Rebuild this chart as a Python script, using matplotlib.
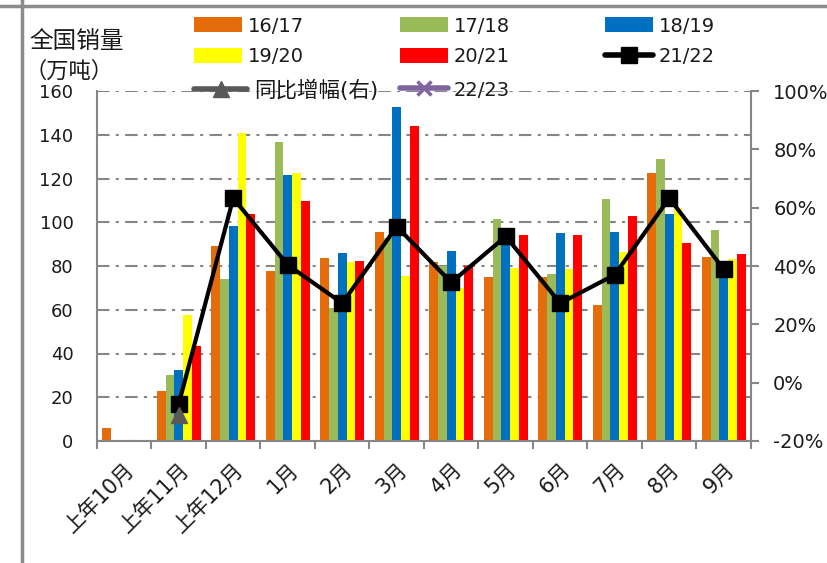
import numpy as np
import matplotlib
matplotlib.use("Agg")
import matplotlib.pyplot as plt
from matplotlib.lines import Line2D
from matplotlib.patches import Patch
from matplotlib.transforms import ScaledTranslation

plt.rcParams['font.family'] = ['DejaVu Sans', 'Noto Sans CJK SC']

categories = ['上年10月', '上年11月', '上年12月', '1月', '2月', '3月',
              '4月', '5月', '6月', '7月', '8月', '9月']
nan = np.nan
s1617 = [6, 23, 89, 77.5, 83.5, 95.5, 82, 75, 75, 62, 122.5, 84]
s1718 = [nan, 30, 74, 136.5, 61, 93, 80, 101.5, 76.5, 110.5, 129, 96.5]
s1819 = [nan, 32.5, 98.5, 121.5, 86, 152.5, 87, 91, 95, 95.5, 104, 78]
s1920 = [nan, 57.5, 141, 122.5, 82, 75.5, 70, 79, 78.5, 86.5, 106.5, 83]
s2021 = [nan, 43.5, 104, 109.5, 82.5, 144, 80, 94, 94, 103, 90.5, 85.5]
s2122 = [nan, 17, 111, 80.5, 63, 98, 72.5, 93.5, 63, 76, 111, 78.5]
yoy = [nan, -11, nan, nan, nan, nan, nan, nan, nan, nan, nan, nan]
s2223 = [nan] * 12

bar_series = [('16/17', s1617, '#E46C0A'), ('17/18', s1718, '#9BBB59'),
              ('18/19', s1819, '#0070C0'), ('19/20', s1920, '#FFFF00'),
              ('20/21', s2021, '#FF0000')]

W, H = 828, 563
fig = plt.figure(figsize=(W / 100, H / 100), dpi=100)
ax = fig.add_axes([97 / W, 1 - 441 / H, (751 - 97) / W, (441 - 91) / H])
ax2 = ax.twinx()

x = np.arange(len(categories))
bw = 0.16
for i, (name, vals, col) in enumerate(bar_series):
    ax.bar(x + (i - 2) * bw, vals, width=bw, color=col, zorder=2, label=name)

ax.plot(x, s2122, color='black', lw=3, marker='s', ms=12, zorder=4, label='21/22')
ax2.plot(x, yoy, color='#595959', lw=3, marker='^', ms=11, zorder=5, label='同比增幅(右)')
ax2.plot(x, s2223, color='#8064A2', lw=3, marker='x', ms=10, mew=2, label='22/23')

gray = '#868686'
txtc = '#1a1a1a'
ax.set_xlim(-0.5, len(categories) - 0.5)
ax.set_ylim(0, 160)
ax.set_yticks(np.arange(0, 161, 20))
ax2.set_ylim(-20, 100)
ax2.set_yticks(np.arange(-20, 101, 20))
ax2.set_yticklabels([f'{v}%' for v in range(-20, 101, 20)])

ax.yaxis.grid(True, color=gray, lw=1.5, linestyle=(0, (6, 3, 1.5, 3)), zorder=0)
ax.set_axisbelow(True)

ax.set_xticks(x)
ax.set_xticklabels(categories, rotation=45, ha='right', va='top',
                   rotation_mode='anchor', fontsize=15, color=txtc)
shift = ScaledTranslation(-7 / 100, -2 / 100, fig.dpi_scale_trans)
for lab in ax.get_xticklabels():
    lab.set_transform(lab.get_transform() + shift)
ax.set_xticks(np.arange(-0.5, len(categories), 1), minor=True)
ax.tick_params(axis='x', which='major', length=0, pad=13)
ax.tick_params(axis='x', which='minor', length=6, width=1.5, color=gray, direction='out')
ax.tick_params(axis='y', length=0, pad=17, labelsize=13, labelcolor=txtc)
ax2.tick_params(axis='y', length=6, width=1.5, color=gray, pad=10, labelsize=14,
                labelcolor=txtc)

for a in (ax, ax2):
    a.spines['top'].set_visible(False)
    for s in ('left', 'right', 'bottom'):
        a.spines[s].set_color(gray)
        a.spines[s].set_linewidth(1.5)
ax.spines['right'].set_visible(False)
ax2.spines['left'].set_visible(False)
ax2.spines['bottom'].set_visible(False)

# axis title
fig.text(29 / W, 1 - 41 / H, '全国销量', fontsize=17, ha='left', va='center',
         family=['Noto Sans CJK SC'], color=txtc)
fig.text(24 / W, 1 - 71 / H, '（万吨）', fontsize=16, ha='left', va='center',
         family=['Noto Sans CJK SC'], color=txtc)

# legend entries in a 3 x 3 grid
h_patch = {n: Patch(facecolor=c) for n, _, c in bar_series}
h_2122 = Line2D([], [], color='black', lw=4, marker='s', ms=12, solid_capstyle='round')
h_yoy = Line2D([], [], color='#595959', lw=4, marker='^', ms=11, solid_capstyle='round')
h_2223 = Line2D([], [], color='#8064A2', lw=4, marker='x', ms=10, mew=2.5,
                solid_capstyle='round')
entries = [
    (h_patch['16/17'], '16/17', 0, 0), (h_patch['17/18'], '17/18', 1, 0),
    (h_patch['18/19'], '18/19', 2, 0),
    (h_patch['19/20'], '19/20', 0, 1), (h_patch['20/21'], '20/21', 1, 1),
    (h_2122, '21/22', 2, 1),
    (h_yoy, '同比增幅(右)', 0, 2), (h_2223, '22/23', 1, 2),
]
col_x = [194, 400, 605]
row_y = [26, 57, 90]
for h, lab, c, r in entries:
    size = 15.5 if lab == '同比增幅(右)' else 14
    leg = fig.legend([h], [lab], loc='center left',
                     bbox_to_anchor=(col_x[c] / W, 1 - row_y[r] / H),
                     frameon=False, borderpad=0, borderaxespad=0,
                     handlelength=48 / 19.4, handleheight=15 / 19.4,
                     handletextpad=0.3,
                     prop={'family': ['DejaVu Sans', 'Noto Sans CJK SC'], 'size': size})
    leg.get_texts()[0].set_color(txtc)

# outer frame of the screenshot
fig.add_artist(Line2D([22 / W, 22 / W], [0, 1], transform=fig.transFigure,
                      color='#8c8c8c', lw=2.5))
fig.add_artist(Line2D([0, 1], [1 - 6 / H, 1 - 6 / H], transform=fig.transFigure,
                      color='#8c8c8c', lw=2.5))

fig.savefig('out.png', dpi=100)
